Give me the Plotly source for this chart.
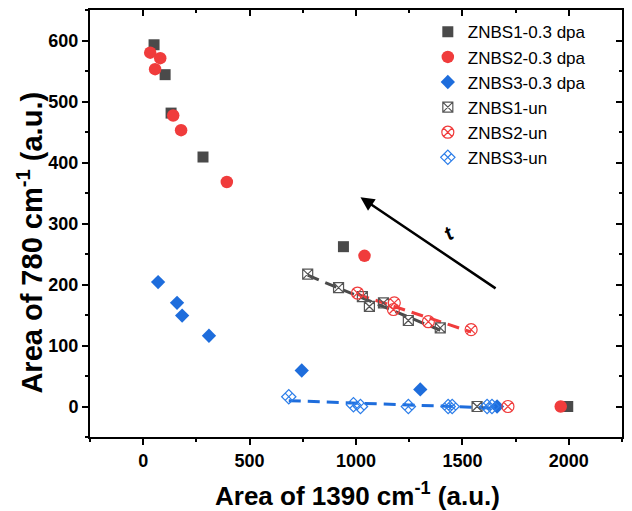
import numpy as np
import plotly.graph_objects as go

# ---------------- data ----------------
s1_irr_x = [51, 103, 131, 281, 941, 1995]
s1_irr_y = [593, 544, 481, 409, 262, 0]

s2_irr_x = [33, 80, 56, 141, 178, 393, 1040, 1962]
s2_irr_y = [580, 571, 553, 477, 453, 368, 247, 0]

s3_irr_x = [70, 159, 183, 309, 745, 1302, 1663]
s3_irr_y = [204, 170, 149, 116, 59, 28, 0]

s1_un_x = [773, 918, 1030, 1063, 1129, 1246, 1396, 1569]
s1_un_y = [217, 195, 180, 164, 170, 141, 129, 0]
s1_fit_n = 7   # points used in the linear fit

s2_un_x = [1007, 1180, 1176, 1340, 1541, 1714]
s2_un_y = [186, 170, 159, 139, 126, 0]
s2_fit_n = 5

s3_un_x = [684, 988, 1021, 1246, 1433, 1452, 1616, 1639]
s3_un_y = [16, 3, 0, 0, 0, 0, 0, 0]
s3_fit_n = 8

x_ticks = [0, 500, 1000, 1500, 2000]
y_ticks = [0, 100, 200, 300, 400, 500, 600]
x_range = [-250, 2250]
y_range = [-50, 650]

arrow_tail = (1663, 192)
arrow_head = (1021, 343)
t_label_pos = (1437, 284)

x_title = "<b>Area of 1390 cm<sup>-1</sup> (a.u.)</b>"
y_title = "<b>Area of 780 cm<sup>-1</sup> (a.u.)</b>"

# ---------------- style ----------------
GRAY = "#4a4a4a"
RED = "#f03c3c"
BLUE = "#1e6ddc"
FONT = "Liberation Sans, Arial, sans-serif"

fig = go.Figure()

fig.add_trace(go.Scatter(x=s1_irr_x, y=s1_irr_y, mode="markers", name="ZNBS1-0.3 dpa",
                         marker=dict(symbol="square", size=11, color=GRAY)))
fig.add_trace(go.Scatter(x=s2_irr_x, y=s2_irr_y, mode="markers", name="ZNBS2-0.3 dpa",
                         marker=dict(symbol="circle", size=12.5, color=RED)))
fig.add_trace(go.Scatter(x=s3_irr_x, y=s3_irr_y, mode="markers", name="ZNBS3-0.3 dpa",
                         marker=dict(symbol="diamond", size=11, color=BLUE)))


def fit_line(xs, ys, n, color):
    xa = np.array(xs[:n], dtype=float)
    ya = np.array(ys[:n], dtype=float)
    k, b = np.polyfit(xa, ya, 1)
    xl = np.array([xa.min(), xa.max()])
    return go.Scatter(x=xl, y=k * xl + b, mode="lines", showlegend=False, hoverinfo="skip",
                      line=dict(color=color, width=3, dash="12px,7px"))


fig.add_trace(fit_line(s1_un_x, s1_un_y, s1_fit_n, GRAY))
fig.add_trace(fit_line(s2_un_x, s2_un_y, s2_fit_n, RED))
fig.add_trace(fit_line(s3_un_x, s3_un_y, s3_fit_n, BLUE))

fig.add_trace(go.Scatter(x=s1_un_x, y=s1_un_y, mode="markers", name="ZNBS1-un",
                         marker=dict(symbol="square-x-open", size=10, color="#555555",
                                     line=dict(width=1.2))))
fig.add_trace(go.Scatter(x=s2_un_x, y=s2_un_y, mode="markers", name="ZNBS2-un",
                         marker=dict(symbol="circle-x-open", size=12, color=RED,
                                     line=dict(width=1.2))))
fig.add_trace(go.Scatter(x=s3_un_x, y=s3_un_y, mode="markers", name="ZNBS3-un",
                         marker=dict(symbol="diamond-x-open", size=11, color="#2b7de9",
                                     line=dict(width=1.2))))

# invisible helper trace so the mirrored (top/right) axes with inside ticks are drawn
fig.add_trace(go.Scatter(x=[None], y=[None], xaxis="x2", yaxis="y2", showlegend=False,
                         hoverinfo="skip"))

fig.add_annotation(x=arrow_head[0], y=arrow_head[1], ax=arrow_tail[0], ay=arrow_tail[1],
                   xref="x", yref="y", axref="x", ayref="y", text="", showarrow=True,
                   arrowhead=2, arrowsize=1.1, arrowwidth=2.5, arrowcolor="black")
fig.add_annotation(x=t_label_pos[0], y=t_label_pos[1], xref="x", yref="y",
                   text="<b><i>t</i></b>", showarrow=False, textangle=-32,
                   font=dict(family=FONT, size=20, color="black"))

# axis titles
fig.add_annotation(x=0.502, y=-0.134, xref="paper", yref="paper", text=x_title,
                   showarrow=False, xanchor="center", yanchor="middle",
                   font=dict(family=FONT, size=26, color="black"))
fig.add_annotation(x=-0.113, y=0.455, xref="paper", yref="paper", text=y_title,
                   showarrow=False, xanchor="center", yanchor="middle", textangle=-90,
                   font=dict(family=FONT, size=29, color="black"))

axis_common = dict(showgrid=False, zeroline=False, linecolor="black", linewidth=2,
                   tickcolor="black", tickwidth=2, ticklen=6, automargin=False)

# the page body adds an 8 px offset, so the figure is 8 px smaller with 8 px smaller l/t margins
fig.update_layout(
    width=624, height=503,
    margin=dict(l=82, r=10, t=2, b=74),
    paper_bgcolor="white", plot_bgcolor="white",
    font=dict(family=FONT, color="black"),
    showlegend=True,
    legend=dict(x=0.635, y=0.99, xanchor="left", yanchor="top",
                bgcolor="rgba(0,0,0,0)", font=dict(family=FONT, size=17),
                tracegroupgap=0, itemsizing="trace"),
    xaxis=dict(range=x_range, tickvals=x_ticks, ticks="outside", mirror=True, showline=True,
               tickfont=dict(family=FONT, size=18, weight="bold"),
               minor=dict(dtick=250, tick0=0, ticks="outside", ticklen=3, tickwidth=2,
                          tickcolor="black"),
               **axis_common),
    yaxis=dict(range=y_range, tickvals=y_ticks, ticks="outside", mirror=True, showline=True,
               tickfont=dict(family=FONT, size=18, weight="bold"),
               minor=dict(dtick=50, tick0=0, ticks="outside", ticklen=3, tickwidth=2,
                          tickcolor="black"),
               **axis_common),
    xaxis2=dict(range=x_range, tickvals=x_ticks, overlaying="x", side="top", anchor="y",
                ticks="inside", showticklabels=False, showline=False, automargin=False,
                minor=dict(dtick=250, tick0=0, ticks="inside", ticklen=3, tickwidth=2,
                           tickcolor="black"),
                showgrid=False, zeroline=False, tickcolor="black", tickwidth=2, ticklen=6),
    yaxis2=dict(range=y_range, tickvals=y_ticks, overlaying="y", side="right", anchor="x",
                ticks="inside", showticklabels=False, showline=False, automargin=False,
                minor=dict(dtick=50, tick0=0, ticks="inside", ticklen=3, tickwidth=2,
                           tickcolor="black"),
                showgrid=False, zeroline=False, tickcolor="black", tickwidth=2, ticklen=6),
)

fig.write_html("out.html")
